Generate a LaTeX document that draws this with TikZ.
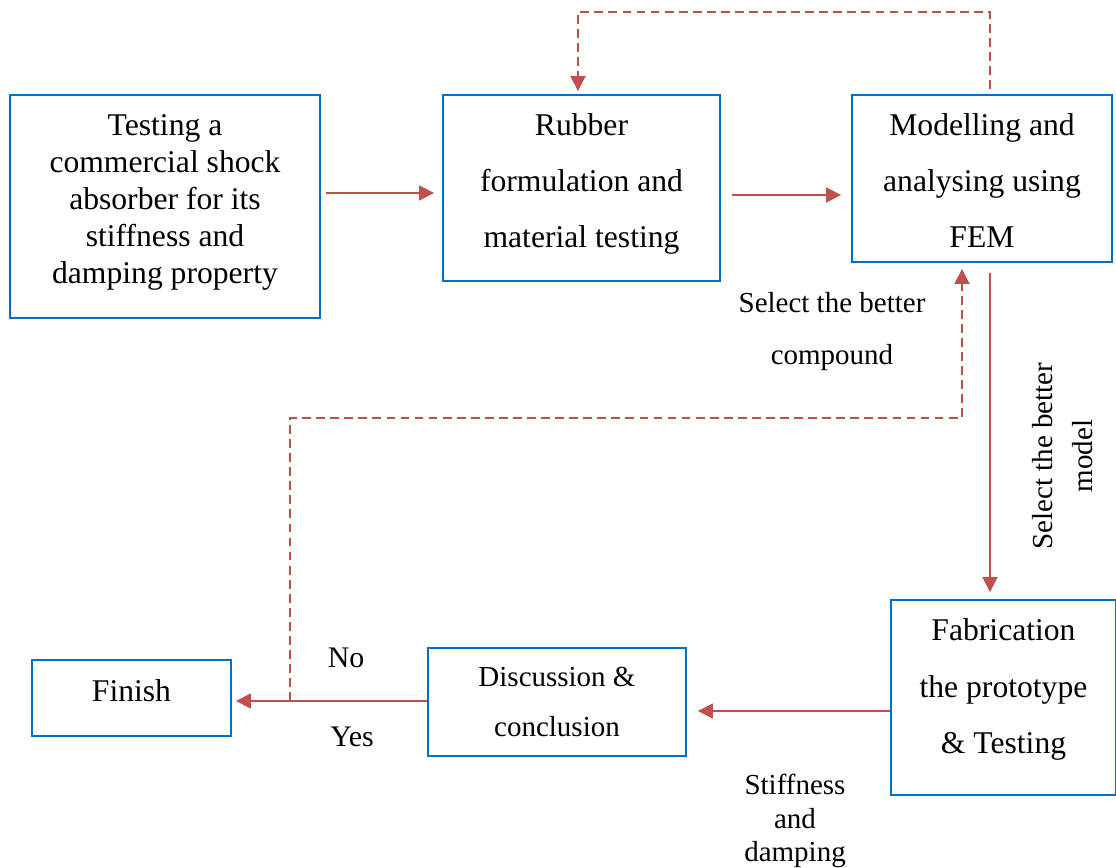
\documentclass[tikz,border=0pt]{standalone}
\usepackage{fontspec}
\setmainfont{Liberation Serif}
\usetikzlibrary{arrows.meta}
\definecolor{boxblue}{RGB}{0,112,192}
\definecolor{flowred}{RGB}{192,80,77}

\def\Dx{990}
\def\Rx{578}
\def\Lx{962}
\def\Sx{290}

\begin{document}
\begin{tikzpicture}[x=0.02cm, y=-0.02cm,
    box/.style={draw=boxblue, line width=1.1pt, align=center, inner sep=0pt, font=\fontsize{18}{32}\selectfont},
    flow/.style={draw=flowred, line width=1pt, -{Triangle[length=0.3cm,width=0.3cm]}},
    back/.style={flow, dash pattern=on 5pt off 3pt},
    lbl/.style={align=center, font=\fontsize{16.5}{29.6}\selectfont}]
    \useasboundingbox (0,0) rectangle (1116,868);

    \node[box, minimum width=6.2cm, minimum height=4.46cm, font=\fontsize{18}{21}\selectfont] (test) at (165,206.5) {Testing a\\commercial shock\\absorber for its\\stiffness and\\damping property\rule[-8.3pt]{0pt}{0pt}};
    \node[box, minimum width=5.54cm, minimum height=3.72cm] (rubber) at (581.5,188) {Rubber\\formulation and\\material testing\rule[-8.3pt]{0pt}{0pt}};
    \node[box, minimum width=5.2cm, minimum height=3.34cm] (fem) at (982,178.5) {\rule{0pt}{14.6pt}Modelling and\\analysing using\\FEM};
    \node[box, minimum width=4.5cm, minimum height=3.9cm] (fab) at (1003.5,697.5) {Fabrication\\the prototype\\\& Testing\rule[-12.9pt]{0pt}{0pt}};
    \node[box, minimum width=5.16cm, minimum height=2.16cm, font=\fontsize{16.5}{28.5}\selectfont] (disc) at (557,702) {Discussion \&\\conclusion};
    \node[box, minimum width=3.98cm, minimum height=1.52cm, text depth=8pt] (finish) at (131.5,698) {Finish};

    \draw[flow, shorten <=0.1cm, shorten >=0.16cm] (test.east |- 0,193) -- (rubber.west |- 0,193);
    \draw[flow, shorten <=0.22cm, shorten >=0.2cm] (rubber.east |- 0,195) -- (fem.west |- 0,195);
    \draw[flow, shorten <=0.2cm, shorten >=0.14cm] (fem.south -| \Dx,0) -- (fab.north -| \Dx,0);
    \draw[flow, shorten >=0.22cm] (fab.west |- 0,711) -- (disc.east |- 0,711);
    \draw[flow, shorten >=0.08cm] (disc.west |- 0,701) -- (finish.east |- 0,701);

    \coordinate (top) at (\Rx,12);
    \draw[back, shorten <=0.1cm, shorten >=0.06cm] (fem.north -| \Dx,0) |- (top) -- (rubber.north -| top);
    \coordinate (split) at (\Sx,701);
    \draw[back, shorten >=0.12cm] (split) |- (\Lx,418) -- (fem.south -| \Lx,0);

    \node[lbl] (compound) at (832,332) {Select the better\\compound};
    \node[lbl, rotate=90, font=\fontsize{16.5}{22.8}\selectfont] (model) at (1063,456) {Select the better\\model};
    \node[lbl, font=\fontsize{17}{20}\selectfont] (no) at (346,658) {No};
    \node[lbl, font=\fontsize{17}{20}\selectfont] (yes) at (352,737) {Yes};
    \node[lbl, font=\fontsize{16.5}{19.3}\selectfont] (prop) at (795,821) {Stiffness\\and\\damping};
\end{tikzpicture}
\end{document}
